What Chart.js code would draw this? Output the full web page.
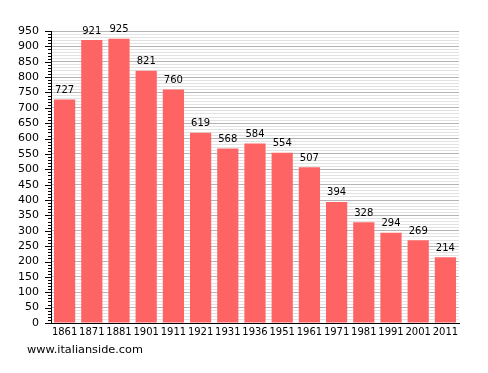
<!DOCTYPE html>
<html>
<head>
<meta charset="utf-8">
<script src="https://cdn.jsdelivr.net/npm/chart.js@4/dist/chart.umd.min.js"></script>
<style>
  html, body { margin: 0; padding: 0; background: #fff; }
  #wrap { position: relative; width: 488px; height: 373px; }
  #site {
    position: absolute; left: 27px; top: 343px;
    font: 11.3px "DejaVu Sans", sans-serif; color: #000;
  }
</style>
</head>
<body>
<div id="wrap">
  <canvas id="chart" width="488" height="373"></canvas>
  <div id="site">www.italianside.com</div>
</div>
<script>
// anni dei censimenti e popolazione
const years = ["1861", "1871", "1881", "1901", "1911", "1921", "1931", "1936", "1951", "1961", "1971", "1981", "1991", "2001", "2011"];
const population = [727, 921, 925, 821, 760, 619, 568, 584, 554, 507, 394, 328, 294, 269, 214];
const yMax = 950;

const FONT = "'DejaVu Sans', sans-serif";

// etichette sopra le barre
const valueLabels = {
  id: "valueLabels",
  afterDatasetsDraw(chart) {
    const ctx = chart.ctx;
    const meta = chart.getDatasetMeta(0);
    ctx.save();
    ctx.font = "10px " + FONT;
    ctx.fillStyle = "#000";
    ctx.textAlign = "center";
    ctx.textBaseline = "bottom";
    meta.data.forEach((bar, i) => {
      ctx.fillText(String(population[i]), bar.x, bar.y - 4);
    });
    ctx.restore();
  }
};

// tacche sull'asse y: lunghe ogni 50, corte ogni 10
const yTicks = {
  id: "yTicks",
  afterDraw(chart) {
    const ctx = chart.ctx;
    const y = chart.scales.y;
    const x0 = chart.chartArea.left;
    ctx.save();
    ctx.strokeStyle = "#000";
    ctx.lineWidth = 1;
    y.ticks.forEach(t => {
      const py = Math.round(y.getPixelForValue(t.value)) + 0.5;
      const len = t.value % 50 === 0 ? 6 : 3;
      ctx.beginPath();
      ctx.moveTo(x0 - len, py);
      ctx.lineTo(x0, py);
      ctx.stroke();
    });
    ctx.restore();
  }
};

new Chart(document.getElementById("chart"), {
  type: "bar",
  data: {
    labels: years,
    datasets: [{
      data: population,
      backgroundColor: "#ff6464",
      borderWidth: 0,
      categoryPercentage: 1,
      barPercentage: 0.78
    }]
  },
  options: {
    responsive: false,
    animation: false,
    events: [],
    layout: { padding: { top: 31, right: 29, bottom: 30, left: 0 } },
    plugins: { legend: { display: false }, tooltip: { enabled: false } },
    scales: {
      x: {
        grid: { display: false, drawTicks: false },
        border: { color: "#000", width: 1 },
        ticks: { color: "#000", font: { family: FONT, size: 10 }, padding: 3, maxRotation: 0, autoSkip: false },
        afterFit(s) { s.height = 20; }
      },
      y: {
        min: 0,
        max: yMax,
        grid: {
          drawTicks: false,
          color: c => (c.tick && c.tick.value % 50 === 0) ? "#b4b4b4" : "#e2e2e2"
        },
        border: { color: "#000", width: 1 },
        ticks: {
          stepSize: 10,
          autoSkip: false,
          color: "#000",
          padding: 12,
          font: { family: FONT, size: 11 },
          callback: v => (v % 50 === 0 ? String(v) : "")
        },
        afterFit(s) { s.width = 51; }
      }
    }
  },
  plugins: [valueLabels, yTicks]
});
</script>
</body>
</html>
